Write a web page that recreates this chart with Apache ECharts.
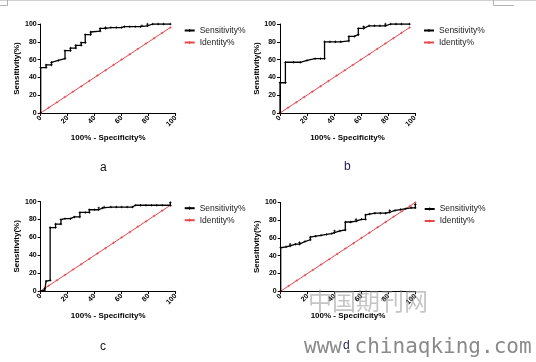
<!DOCTYPE html>
<html><head><meta charset="utf-8">
<script src="https://cdn.jsdelivr.net/npm/echarts@6/dist/echarts.min.js"></script>
<style>html,body{margin:0;padding:0;background:#fff}#c{width:536px;height:362px}</style>
</head><body><div id="c"></div>
<script>
// Panel data: [100% - Specificity%, Sensitivity%]
var sensA = [[0,0],[0,51],[4,51],[4,54],[8,54],[8,57],[13,59],[18,61],[18,70],[22,70],[22,73],[26,73],[26,76],[30,76],[30,79],[33,79],[33,88],[37,88],[37,91],[44,92],[44,95],[48,95],[48,96],[52,96],[56,96],[60,96],[62,97],[66,97],[70,97],[74,97],[75,98],[79,98],[79,100],[83,100],[87,100],[91,100],[96,100]];
var sensB = [[0,0],[0,34],[4,34],[4,57],[10,57],[15,57],[20,59],[26,61],[30,61],[33,61],[33,80],[37,80],[41,80],[45,80],[51,81],[51,86],[55,86],[58,88],[58,95],[62,95],[62,97],[66,98],[70,98],[74,98],[78,98],[78,100],[82,100],[86,100],[90,100],[96,100]];
var sensC = [[0,0],[3,1],[3,3],[4,11],[7,12],[7,71],[11,71],[11,75],[15,75],[15,80],[18,81],[22,81],[25,83],[29,83],[29,88],[33,88],[36,88],[36,91],[40,91],[43,91],[43,93],[46,93],[47,94],[52,94],[56,94],[60,94],[64,94],[68,94],[70,96],[74,96],[78,96],[82,96],[86,96],[90,96],[96,96],[96,99]];
var sensD = [[0,0],[0,49],[4,50],[7,51],[7,53],[11,53],[14,53],[14,55],[18,56],[22,58],[22,61],[26,62],[30,63],[34,64],[38,65],[40,66],[40,68],[44,68],[48,69],[48,78],[52,78],[56,79],[56,81],[60,81],[63,81],[63,86],[66,87],[70,88],[74,88],[78,88],[81,89],[81,91],[85,91],[89,92],[93,93],[97,94],[100,94],[100,98]];
var identABC = [[0,0],[6,6],[12,12],[18,18],[24,24],[30,30],[36,36],[42,42],[48,48],[54,54],[60,60],[66,66],[72,72],[78,78],[84,84],[90,90],[96,96]];
var identD = [[0,0],[6,6],[12,12],[18,18],[24,24],[30,30],[36,36],[42,42],[48,48],[54,54],[60,60],[66,66],[72,72],[78,78],[84,84],[90,90],[96,96],[100,100]];
var tickVals = [0,20,40,60,80,100];
var panelLabels = ['a','b','c','d'];
var seriesNames = ['Sensitivity%','Identity%'];
var xTitle = '100% - Specificity%';
var yTitle = 'Sensitivity(%)';

var FONT = '"Liberation Sans", Arial, sans-serif';
var grids = [
  {left:40.7, top:24, width:135, height:89},
  {left:280, top:24, width:135, height:89},
  {left:40.7, top:201.7, width:135, height:89.3},
  {left:280.7, top:202.5, width:134.6, height:88.7}
];
var sensAll = [sensA, sensB, sensC, sensD];
var identAll = [identABC, identABC, identABC, identD];
var plus = 'path://M-0.3,-1L0.3,-1L0.3,-0.3L1,-0.3L1,0.3L0.3,0.3L0.3,1L-0.3,1L-0.3,0.3L-1,0.3L-1,-0.3L-0.3,-0.3Z';

var xAxes = [], yAxes = [], series = [], legends = [], graphics = [];
grids.forEach(function(g, i){
  var axCommon = {
    min: tickVals[0], max: tickVals[tickVals.length-1], interval: 20,
    gridIndex: i,
    axisLine: {show:true, lineStyle:{color:'#000', width:1}},
    axisTick: {show:true, length:3, lineStyle:{color:'#000'}},
    splitLine: {show:false},
    nameTextStyle: {fontFamily: FONT, fontWeight:'bold', fontSize:8, color:'#000'}
  };
  xAxes.push(Object.assign({}, axCommon, {
    type:'value', name: xTitle, nameLocation:'middle', nameGap: 21,
    axisLabel: {rotate:45, fontSize:7, fontWeight:'bold', fontFamily:FONT, color:'#000', margin:4}
  }));
  yAxes.push(Object.assign({}, axCommon, {
    type:'value', name: yTitle, nameLocation:'middle', nameGap: 14, nameRotate: 90,
    axisLabel: {fontSize:7, fontWeight:'bold', fontFamily:FONT, color:'#000', margin:4}
  }));
  series.push({
    name: seriesNames[0], type:'line', xAxisIndex:i, yAxisIndex:i, data: sensAll[i],
    symbol: plus, symbolSize: 2.5, showSymbol: true,
    itemStyle:{color:'#000'}, lineStyle:{color:'#000', width:1.3}, animation:false, z:3
  });
  series.push({
    name: seriesNames[1], type:'line', xAxisIndex:i, yAxisIndex:i, data: identAll[i],
    symbol: plus, symbolSize: 2.5, showSymbol: true,
    itemStyle:{color:'#e8474c'}, lineStyle:{color:'#e8474c', width:1}, animation:false, z:2
  });
  legends.push({
    data: seriesNames, orient:'vertical', left: g.left + 143, top: g.top + 2,
    itemWidth: 10, itemHeight: 4, itemGap: 3, selectedMode:false, padding: 0,
    textStyle:{fontFamily:FONT, fontSize:8.5, color:'#222'}
  });
});

var labelPos = [[104,170],[348,169],[104,349],[347,348]];
var labelColors = ['#111','#1c1c5a','#111','#1c1c5a'];
labelPos.forEach(function(p, i){
  graphics.push({type:'text', left:p[0]-4, top:p[1]-8, z:20,
    style:{text:panelLabels[i], font:'12px '+FONT, fill:labelColors[i]}});
});
// page-border artefacts of the source document
graphics.push({type:'line', shape:{x1:0,y1:0.5,x2:536,y2:0.5}, style:{stroke:'#d0d0d0', lineWidth:1}});
graphics.push({type:'polyline', shape:{points:[[0,5.5],[7.5,5.5],[7.5,0]]}, style:{stroke:'#b0b0b0', lineWidth:1, fill:null}});
graphics.push({type:'polyline', shape:{points:[[493.5,0],[493.5,5.5],[514,5.5]]}, style:{stroke:'#b0b0b0', lineWidth:1, fill:null}});
// watermark
graphics.push({type:'text', left:308, top:289, z:10,
  style:{text:'中国期刊网', font:'24px "Noto Sans CJK SC"', fill:'rgba(140,140,140,0.5)'}});
graphics.push({type:'text', left:304, top:337, z:10,
  style:{text:'www.chinaqking.com', font:'21px "DejaVu Sans Mono"', fill:'#8a8a8a'}});

var chart = echarts.init(document.getElementById('c'), null, {renderer:'canvas'});
chart.setOption({
  animation:false,
  backgroundColor:'#fff',
  grid: grids,
  xAxis: xAxes,
  yAxis: yAxes,
  series: series,
  legend: legends,
  graphic: graphics
});
</script></body></html>
